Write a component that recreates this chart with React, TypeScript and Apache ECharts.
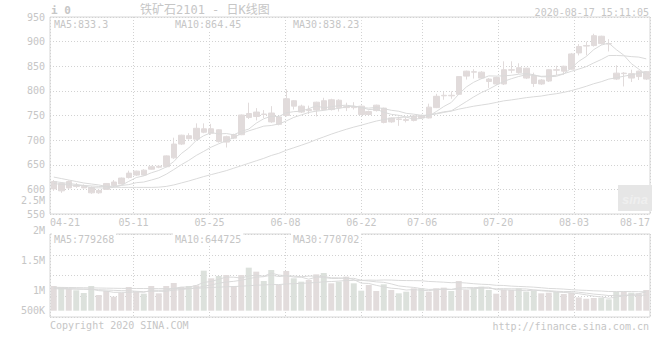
import React, { useEffect, useRef } from 'react';
import * as echarts from 'echarts';

// ---------- data ----------
const dates = [
  '04-21','04-22','04-23','04-24','04-27','04-28','04-29','04-30',
  '05-06','05-07','05-08','05-11','05-12','05-13','05-14','05-15','05-18','05-19','05-20','05-21','05-22','05-25','05-26','05-27','05-28','05-29',
  '06-01','06-02','06-03','06-04','06-05','06-08','06-09','06-10','06-11','06-12','06-15','06-16','06-17','06-18','06-19','06-22','06-23','06-24','06-29','06-30',
  '07-01','07-02','07-03','07-06','07-07','07-08','07-09','07-10','07-13','07-14','07-15','07-16','07-17','07-20','07-21','07-22','07-23','07-24','07-27','07-28','07-29','07-30','07-31',
  '08-03','08-04','08-05','08-06','08-07','08-10','08-11','08-12','08-13','08-14','08-17'
];
const xTickLabels = ['04-21','05-11','05-25','06-08','06-22','07-06','07-20','08-03','08-17'];

const opens = [601,612,603,608,606,604,593,600,608,611,624,629,639,641,645,646,664,692,709,702,723,714,721,696,704,711,754,748,753,755,732,750,780,769,760,761,780,762,781,766,768,769,752,760,765,737,743,742,740,750,745,766,790,791,793,830,839,838,824,814,814,842,847,846,831,814,820,843,840,844,877,891,892,911,896,836,835,835,829,824];
const closes = [616,597,616,606,603,593,598,612,615,623,633,637,629,646,647,668,692,710,703,724,716,723,697,707,711,751,746,757,752,737,747,784,769,757,762,777,762,782,766,768,766,752,758,771,736,745,742,740,749,745,767,789,791,790,829,840,838,826,819,827,843,843,837,826,815,822,843,842,850,875,890,892,912,896,895,824,836,826,840,839];
const lows = [597,593,601,603,602,591,591,599,605,610,622,627,628,640,643,645,662,690,701,700,714,711,695,685,702,710,743,740,745,735,730,748,762,755,753,748,760,760,758,759,762,750,750,758,734,735,729,736,738,743,744,765,782,784,792,823,825,824,806,812,812,836,835,824,808,812,818,832,833,843,872,872,890,894,880,822,809,818,822,822];
const highs = [619,614,618,613,610,606,600,613,619,624,638,638,641,648,649,669,705,711,714,734,734,733,722,709,713,752,776,765,761,769,749,803,781,772,770,778,786,784,783,776,777,770,760,772,766,746,748,746,750,752,774,794,798,799,830,841,844,840,826,829,860,860,856,847,837,824,844,851,851,877,895,900,916,912,905,852,838,843,841,840];

const ma5 = [612,610,609,608,607.6,603,603.2,602.4,604.2,608.2,616.2,624,627.4,633.6,638.4,645.4,656.4,672.6,684,699.4,709,715.2,712.6,713.4,710.8,717.8,722.4,734.4,743.4,748.6,747.8,755.4,757.8,758.8,763.8,769.8,765.4,768,769.8,771,768.8,766.8,762,763,756.6,752.4,750.4,746.8,742.4,744.2,748.6,758,768.2,776.4,793.2,807.8,817.6,824.6,830.4,830,830.6,831.6,833.8,835.2,832.8,828.6,828.6,829.6,834.4,846.4,860,869.8,883.8,893,897,883.8,872.6,855.4,844.2,833];
const ma10 = [616,614,612,610,608,607,606,606,606.5,607.9,609.6,613.6,614.9,618.9,623.3,630.8,640.2,650,658.8,668.9,677.2,685.8,692.6,698.7,705.1,713.4,718.8,723.5,728.4,729.7,732.8,738.9,746.1,751.1,756.2,758.8,760.4,762.9,764.3,767.4,769.3,766.1,765,766.4,763.8,760.6,758.6,754.4,752.7,750.4,750.5,754.2,757.5,759.4,768.7,778.2,787.8,796.4,803.4,811.6,819.2,824.6,829.2,832.8,831.4,829.6,830.1,831.7,834.8,839.6,844.3,849.2,856.7,863.7,871.7,871.9,871.2,869.6,868.6,865];
const ma30 = [625,622,619,616,613,611,609,606,604.5,604,604,604,604,604,604.5,606,609,613,617,621.5,626,630,634,638,643,648,653,658,663,668.8,673.2,679.4,684.5,689.6,694.9,701,706.5,712.1,717.2,722,726.4,730.3,734.6,738.7,741.7,744.3,745.9,746.9,748.5,749.2,750.9,753.1,756.2,759,762.9,765.9,768.9,771.2,773.5,776.5,779.7,781.6,783.9,786.2,788,789.5,792.2,794.2,797,800.5,804.7,809.3,814.5,818.6,823.9,826.6,829.7,832.6,835.6,838.7];

// volume, thousands of lots
const volumes = [1012,971,889,835,725,1012,643,807,575,739,971,780,698,1012,712,1012,1135,971,1012,1040,1641,1327,1422,1463,1012,1463,1764,1600,1217,1668,1053,1627,1327,1190,1258,1490,1545,1122,1190,1395,1122,821,1053,807,1081,848,712,780,917,917,780,917,944,807,1217,848,917,985,848,698,848,848,917,780,821,712,739,780,684,739,545,490,520,530,466,780,780,739,712,848];
const volMa5 = [930,915,905,895,886,886,821,804,752,755,747,774,753,840,835,843,914,968,968,1034,1160,1198,1288,1379,1373,1337,1425,1460,1411,1542,1460,1433,1378,1373,1291,1378,1362,1321,1321,1348,1275,1130,1116,1040,977,922,900,846,868,835,821,862,895,873,933,947,947,955,963,859,859,845,832,818,843,816,794,766,747,731,697,648,596,565,510,557,615,659,695,772];
const volMa10 = [900,895,890,885,880,870,860,850,835,821,817,798,779,796,795,795,844,861,904,935,1002,1056,1128,1174,1204,1249,1312,1374,1395,1458,1399,1429,1419,1392,1417,1419,1398,1350,1347,1320,1327,1246,1219,1181,1163,1099,1015,981,954,906,872,881,871,871,884,884,905,925,918,896,903,896,894,891,851,838,820,799,783,787,757,721,681,656,621,627,632,628,630,641];
const volMa30 = [960,955,950,945,940,935,930,925,920,915,912,910,908,906,904,903,905,908,912,918,935,950,965,980,990,1005,1025,1045,1055,1071,1072,1094,1109,1121,1138,1154,1184,1195,1215,1237,1242,1243,1255,1248,1260,1255,1241,1235,1232,1228,1199,1185,1169,1147,1154,1134,1106,1085,1073,1041,1034,1008,994,981,966,940,913,902,885,863,844,833,815,806,786,783,786,784,778,775];

const priceMin = 550;
const priceMax = 950;
const priceStep = 50;
const volLabelMin = 1000000;
const volLabelMax = 2500000;
const volLabelStep = 500000;
const volBottomLabel = '500K';

const title = '铁矿石2101 - 日K线图';
const code = 'i 0';
const stamp = '2020-08-17 15:11:05';
const priceHeader = ['MA5:833.3', 'MA10:864.45', 'MA30:838.23'];
const volHeader = ['MA5:779268', 'MA10:644725', 'MA30:770702'];
const copyright = 'Copyright 2020 SINA.COM';
const site = 'http://finance.sina.com.cn';

// ---------- styles ----------
const TXT = '#c6c6c6';
const GRIDC = '#d2d2d2';
const BORDER = '#d6d6d6';
const CANDLE = '#e1dbdb';
const MAC = '#dadada';
const UPV = '#e2dcdc';
const DNV = '#dce1dc';
const MONO = '"DejaVu Sans Mono", "Liberation Mono", monospace';

export default function App() {
  const ref = useRef<HTMLDivElement>(null);

  useEffect(() => {
    const chart = echarts.init(ref.current as HTMLDivElement, null, { renderer: 'svg' });
    const candles = dates.map((_, i) => [opens[i], closes[i], lows[i], highs[i]]);
    const volData = volumes.map((v, i) => ({
      value: v,
      itemStyle: { color: closes[i] >= opens[i] ? UPV : DNV },
    }));
    const showTick = (_: number, val: string) => xTickLabels.includes(val);
    const dotted = { color: GRIDC, type: [1, 2] as any, width: 1 };
    const maLine = (data: number[], xi: number, yi: number) => ({
      type: 'line', data, xAxisIndex: xi, yAxisIndex: yi, symbol: 'none', silent: true,
      lineStyle: { color: MAC, width: 1 }, z: 3,
    });
    const hdr = (t: string, x: number, y: number) => ({
      type: 'text', x, y, z: 100,
      style: { text: t, fill: TXT, font: `10px ${MONO}`, textVerticalAlign: 'middle', backgroundColor: '#fff', padding: [1, 2] },
    });

    const option: any = {
      animation: false,
      backgroundColor: '#fff',
      grid: [
        { left: 50, top: 17, width: 600, height: 197, show: true, borderColor: BORDER, borderWidth: 1 },
        { left: 50, top: 234, width: 600, height: 83, show: true, borderColor: BORDER, borderWidth: 1 },
        { left: 50, top: 200.7, width: 600, height: 90, show: false },
      ],
      xAxis: [
        { gridIndex: 0, type: 'category', data: dates, boundaryGap: true, show: false, position: 'bottom' },
        {
          gridIndex: 0, type: 'category', data: dates, boundaryGap: false, position: 'bottom',
          axisLine: { show: false }, axisTick: { show: false },
          axisLabel: {
            interval: showTick, color: TXT, fontFamily: MONO, fontSize: 10, lineHeight: 8, margin: 4,
            alignMinLabel: 'left', alignMaxLabel: 'right',
          },
          splitLine: { show: true, interval: showTick, lineStyle: dotted },
        },
        { gridIndex: 1, type: 'category', data: dates, boundaryGap: true, show: false, position: 'bottom' },
        {
          gridIndex: 1, type: 'category', data: dates, boundaryGap: false, position: 'bottom',
          axisLine: { show: false }, axisTick: { show: false }, axisLabel: { show: false },
          splitLine: { show: true, interval: showTick, lineStyle: dotted },
        },
        { gridIndex: 2, type: 'category', data: dates, show: false },
      ],
      yAxis: [
        {
          gridIndex: 0, type: 'value', min: priceMin, max: priceMax, interval: priceStep,
          axisLine: { show: false }, axisTick: { show: false },
          axisLabel: { color: TXT, fontFamily: MONO, fontSize: 10, lineHeight: 8, margin: 5 },
          splitLine: { show: true, lineStyle: dotted },
        },
        { gridIndex: 1, type: 'value', min: -258, max: 3143, show: false },
        {
          gridIndex: 1, type: 'value', min: 0, max: 4, interval: 1,
          axisLine: { show: false }, axisTick: { show: false }, axisLabel: { show: false },
          splitLine: { show: true, lineStyle: dotted },
        },
        {
          gridIndex: 2, type: 'value', min: volLabelMin, max: volLabelMax, interval: volLabelStep,
          axisLine: { show: false }, axisTick: { show: false }, splitLine: { show: false },
          axisLabel: {
            color: TXT, fontFamily: MONO, fontSize: 10, lineHeight: 8, margin: 5,
            formatter: (v: number) => (v >= 1000000 ? `${v / 1000000}M` : `${v / 1000}K`),
          },
        },
      ],
      series: [
        {
          type: 'candlestick', data: candles, xAxisIndex: 0, yAxisIndex: 0, barWidth: 6, z: 2,
          itemStyle: { color: CANDLE, color0: CANDLE, borderColor: CANDLE, borderColor0: CANDLE, borderWidth: 1 },
        },
        maLine(ma5, 0, 0),
        maLine(ma10, 0, 0),
        maLine(ma30, 0, 0),
        { type: 'bar', data: volData, xAxisIndex: 2, yAxisIndex: 1, barWidth: 6, z: 2 },
        maLine(volMa5, 2, 1),
        maLine(volMa10, 2, 1),
        maLine(volMa30, 2, 1),
      ],
      graphic: [
        { type: 'text', x: 51, y: 10, z: 100, style: { text: code, fill: TXT, font: `bold 11px ${MONO}`, textVerticalAlign: 'middle' } },
        { type: 'text', x: 140, y: 10, z: 100, style: { text: title, fill: TXT, font: '12px "DejaVu Sans Mono", "Noto Sans CJK SC"', textVerticalAlign: 'middle' } },
        { type: 'text', x: 649, y: 12, z: 100, style: { text: stamp, fill: TXT, font: `10px ${MONO}`, textAlign: 'right', textVerticalAlign: 'middle' } },
        hdr(priceHeader[0], 52, 24),
        hdr(priceHeader[1], 173, 24),
        hdr(priceHeader[2], 291, 24),
        hdr(volHeader[0], 52, 239),
        hdr(volHeader[1], 173, 239),
        hdr(volHeader[2], 291, 239),
        { type: 'text', x: 45, y: 310, z: 100, style: { text: volBottomLabel, fill: TXT, font: `10px ${MONO}`, textAlign: 'right', textVerticalAlign: 'middle' } },
        { type: 'text', x: 50, y: 325, z: 100, style: { text: copyright, fill: TXT, font: `10px ${MONO}`, textVerticalAlign: 'middle' } },
        { type: 'text', x: 649, y: 326, z: 100, style: { text: site, fill: TXT, font: `10px ${MONO}`, textAlign: 'right', textVerticalAlign: 'middle' } },
        { type: 'rect', x: 618, y: 185, z: 90, shape: { width: 34, height: 26 }, style: { fill: '#e6e6e6' } },
        { type: 'text', x: 635, y: 199, z: 95, style: { text: 'sina', fill: '#efefef', font: 'italic bold 13px sans-serif', textAlign: 'center', textVerticalAlign: 'middle' } },
      ],
    };
    chart.setOption(option);
    return () => chart.dispose();
  }, []);

  return (
    <div
      ref={ref}
      style={{ position: 'fixed', left: 0, top: 0, width: 660, height: 360, background: '#fff' }}
    />
  );
}
